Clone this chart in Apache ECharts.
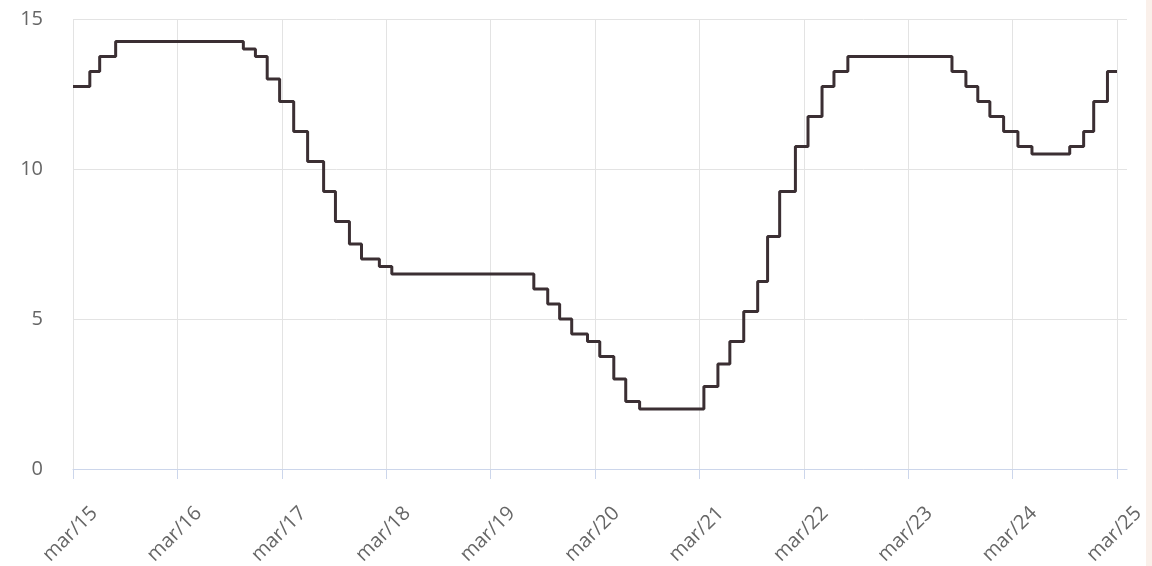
<!DOCTYPE html>
<html lang="pt">
<head>
    <meta charset="UTF-8"/>
    <script src="https://cdn.jsdelivr.net/npm/echarts@6/dist/echarts.min.js"></script>
    <title>Selic</title>
    <style>
        html, body{
            margin: 0;
            padding: 0;
            background: #fff;
        }
        #chart{
            width: 1152px;
            height: 566px;
        }
    </style>
</head>
<body>
<div id="chart"></div>
<script type="text/javascript">
    // datas das mudanças e valor a partir de cada data
    var dates = [
        '2015-03-01', '2015-04-29', '2015-06-03', '2015-07-29', '2016-10-19', '2016-11-30',
        '2017-01-11', '2017-02-22', '2017-04-12', '2017-05-31', '2017-07-26', '2017-09-06',
        '2017-10-25', '2017-12-06', '2018-02-07', '2018-03-21', '2019-07-31', '2019-09-18',
        '2019-10-30', '2019-12-11', '2020-02-05', '2020-03-18', '2020-05-06', '2020-06-17',
        '2020-08-05', '2021-03-17', '2021-05-05', '2021-06-16', '2021-08-04', '2021-09-22',
        '2021-10-27', '2021-12-08', '2022-02-02', '2022-03-16', '2022-05-04', '2022-06-15',
        '2022-08-03', '2023-08-02', '2023-09-20', '2023-11-01', '2023-12-13', '2024-01-31',
        '2024-03-20', '2024-05-08', '2024-09-18', '2024-11-06', '2024-12-11', '2025-01-29',
        '2025-03-01'
    ];
    var rates = [
        12.75, 13.25, 13.75, 14.25, 14.00, 13.75,
        13.00, 12.25, 11.25, 10.25, 9.25, 8.25,
        7.50, 7.00, 6.75, 6.50, 6.00, 5.50,
        5.00, 4.50, 4.25, 3.75, 3.00, 2.25,
        2.00, 2.75, 3.50, 4.25, 5.25, 6.25,
        7.75, 9.25, 10.75, 11.75, 12.75, 13.25,
        13.75, 13.25, 12.75, 12.25, 11.75, 11.25,
        10.75, 10.50, 10.75, 11.25, 12.25, 13.25,
        13.25
    ];
    var tickLabels = ['mar/15', 'mar/16', 'mar/17', 'mar/18', 'mar/19', 'mar/20',
        'mar/21', 'mar/22', 'mar/23', 'mar/24', 'mar/25'];
    var yTicks = [0, 5, 10, 15];

    // meses desde mar/2015
    function monthsFrom(str) {
        var p = str.split('-');
        var y = +p[0], m = +p[1], d = +p[2];
        var dim = new Date(y, m, 0).getDate();
        return (y - 2015) * 12 + (m - 3) + (d - 1) / dim;
    }

    var seriesData = [];
    for (var i = 0; i < dates.length; i++) {
        seriesData.push([monthsFrom(dates[i]), rates[i]]);
    }
    var tickValues = [];
    for (var k = 0; k < tickLabels.length; k++) {
        tickValues.push(k * 12);
    }

    var myChart = echarts.init(document.getElementById('chart'));
    var option = {
        animation: false,
        graphic: [{
            type: 'rect',
            right: 0,
            top: 0,
            shape: {width: 6, height: 566},
            style: {fill: '#faf0ea'},
            silent: true
        }],
        grid: {
            left: 73,
            right: 25,
            top: 19,
            bottom: 97,
            containLabel: false,
            outerBoundsMode: 'none'
        },
        xAxis: {
            type: 'value',
            min: 0,
            max: 121.15,
            axisLine: {show: true, lineStyle: {color: '#ccd6eb', width: 1}},
            axisTick: {
                show: true,
                length: 10,
                customValues: tickValues,
                lineStyle: {color: '#ccd6eb', width: 1}
            },
            splitLine: {show: true, lineStyle: {color: '#e3e3e3', width: 1}},
            axisLabel: {
                customValues: tickValues,
                rotate: 45,
                margin: 20,
                verticalAlign: 'top',
                padding: [20, 0, 0, 0],
                color: '#666',
                fontSize: 20,
                fontFamily: 'Open Sans',
                formatter: function (v) {
                    return tickLabels[Math.round(v / 12)] || '';
                }
            }
        },
        yAxis: {
            type: 'value',
            min: yTicks[0],
            max: yTicks[yTicks.length - 1],
            interval: 5,
            axisLine: {show: false},
            axisTick: {show: false},
            splitLine: {lineStyle: {color: '#e3e3e3', width: 1}},
            axisLabel: {
                margin: 30,
                color: '#666',
                fontSize: 20,
                fontFamily: 'Open Sans'
            }
        },
        series: [{
            type: 'line',
            step: 'end',
            data: seriesData,
            showSymbol: false,
            lineStyle: {color: '#3b2f33', width: 3}
        }]
    };
    myChart.setOption(option);
</script>
</body>
</html>
